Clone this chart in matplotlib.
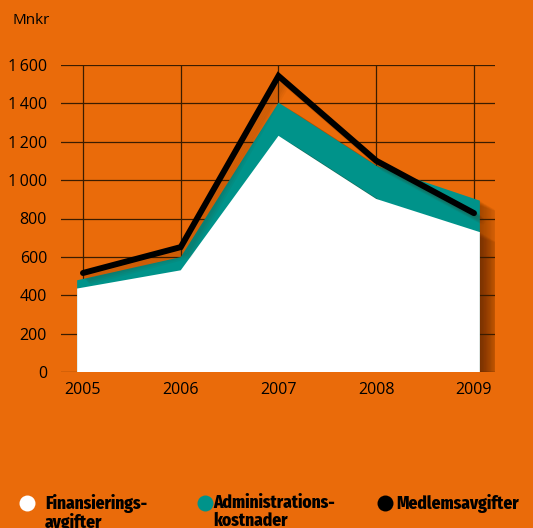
import matplotlib
matplotlib.use("Agg")
import matplotlib.pyplot as plt
import matplotlib.patheffects as pe
from matplotlib.lines import Line2D

years = [2005, 2006, 2007, 2008, 2009]
finansiering = [435, 530, 1231, 902, 729]
administration = [43, 69, 173, 173, 164]
medlemsavgifter = [516, 651, 1543, 1101, 828]
yticks = [0, 200, 400, 600, 800, 1000, 1200, 1400, 1600]
ytick_labels = ["0", "200", "400", "600", "800", "1\u2009000", "1\u2009200", "1\u2009400", "1\u2009600"]
names = ["Finansierings-\navgifter", "Administrations-\nkostnader", "Medlemsavgifter"]

orange = "#EA6B0A"
teal = "#00938A"
white = "#FFFFFF"
grid_col = "#3B1C00"
shadow_col = "#4a1e00"

plt.rcParams["font.family"] = ["Open Sans", "DejaVu Sans"]

fig = plt.figure(figsize=(5.33, 5.28), dpi=100, facecolor=orange)
ax = fig.add_axes([61 / 533, 1 - 372 / 528, 434 / 533, 307 / 528])
ax.set_facecolor(orange)

# extend fill slightly past the first and last year
edge = 0.06
xs = list(years)
xs[0] -= edge
xs[-1] += edge
total = [f + a for f, a in zip(finansiering, administration)]

# soft drop shadow made of a few faint offset copies
shadow = [pe.SimplePatchShadow(offset=(o, -0.6 * o), shadow_rgbFace=shadow_col, alpha=0.035)
          for o in range(1, 15)] + [pe.Normal()]
line_shadow = [pe.SimpleLineShadow(offset=(o, -o), shadow_color=shadow_col, alpha=0.05)
               for o in range(1, 7)] + [pe.Normal()]

ax.fill_between(xs, 0, total, color=teal, lw=0, zorder=3, path_effects=shadow)
ax.fill_between(xs, 0, finansiering, color=white, lw=0, zorder=4, path_effects=shadow)
ax.plot(years, medlemsavgifter, color="black", lw=4.3, solid_capstyle="round",
        solid_joinstyle="miter", zorder=5, path_effects=line_shadow)

ax.set_xlim(years[0] - 0.225, years[-1] + 0.215)
ax.set_ylim(0, 1600)
for y in yticks:
    ax.axhline(y, color=grid_col, lw=0.9, zorder=1)
for x in years:
    ax.plot([x, x], [0, 1600], color=grid_col, lw=0.9, zorder=1)

ax.set_yticks(yticks)
ax.set_yticklabels(ytick_labels)
ax.set_xticks(years)
ax.set_xticklabels([str(y) for y in years])
ax.tick_params(length=0, labelsize=11.5, colors="black")
ax.tick_params(axis="y", pad=10)
ax.tick_params(axis="x", pad=7)
for s in ax.spines.values():
    s.set_visible(False)

fig.text(12 / 533, 1 - 21 / 528, "Mnkr", fontsize=11, va="center", ha="left")

# legend
leg_colors = [white, teal, "black"]
circle_x = [27, 205, 385]
text_x = [45, 213, 396]
for c, cx, tx, name in zip(leg_colors, circle_x, text_x, names):
    fig.add_artist(Line2D([cx / 533], [1 - 503 / 528], marker="o", markersize=11.5,
                          color=c, markeredgewidth=0, transform=fig.transFigure))
    fig.text(tx / 533, 1 - 494 / 528, name, fontsize=12.5, fontweight=800,
             family=["Fira Sans Condensed", "DejaVu Sans"], va="top", ha="left",
             linespacing=1.0)

fig.savefig("out.png", dpi=100, facecolor=orange)
